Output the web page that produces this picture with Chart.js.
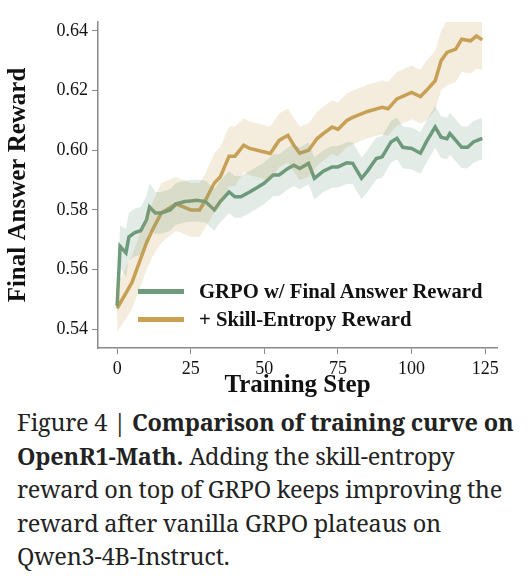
<!DOCTYPE html>
<html><head><meta charset="utf-8">
<script src="https://cdn.jsdelivr.net/npm/chart.js@4"></script>
<style>
body{margin:0;background:#fff;width:528px;height:584px;overflow:hidden;position:relative}
#wrap{position:absolute;left:0;top:0;width:528px;height:405px}
#legend{position:absolute;left:138px;top:277px;font-family:"Liberation Serif",serif;font-weight:bold;font-size:20.7px;color:#111;line-height:28px}
#legend div{display:flex;align-items:center}
#legend span.sw{display:inline-block;width:46px;height:5px;margin-right:15px}
#cap{position:absolute;left:17px;top:406px;width:505px;font-family:"Noto Serif","DejaVu Serif","Liberation Serif",serif;font-size:23.5px;line-height:33.5px;color:#222;letter-spacing:-0.2px}
</style></head><body>
<div id="wrap"><canvas id="c" width="528" height="405"></canvas></div>
<div id="legend">
<div><span class="sw" style="background:#6f9a7c"></span>GRPO w/ Final Answer Reward</div>
<div><span class="sw" style="background:#c9a155"></span>+ Skill-Entropy Reward</div>
</div>
<div id="cap">Figure 4 | <b>Comparison of training curve on OpenR1-Math.</b> Adding the skill-entropy reward on top of GRPO keeps improving the reward after vanilla GRPO plateaus on Qwen3-4B-Instruct.</div>
<script>
const xTicks=[0,25,50,75,100,125];
const yTicks=[0.54,0.56,0.58,0.60,0.62,0.64];
const skillSteps=[0,5,10,12,15,20,25,28,30,33,35,38,40,43,45,50,52,55,58,60,62,65,68,70,73,75,78,80,85,90,92,95,100,103,105,108,110,112,115,117,120,122,124];
const skillMean=[0.547,0.5556,0.569,0.5733,0.579,0.582,0.580,0.580,0.5833,0.589,0.591,0.598,0.598,0.6017,0.6006,0.5994,0.5989,0.6033,0.605,0.6017,0.599,0.600,0.604,0.6056,0.6078,0.607,0.610,0.611,0.613,0.6144,0.6139,0.6172,0.6194,0.618,0.620,0.6233,0.630,0.6328,0.6339,0.6372,0.6367,0.6383,0.637];
const skillHalf=[0.008,0.009,0.009,0.009,0.01,0.009,0.009,0.009,0.009,0.01,0.01,0.01,0.01,0.009,0.009,0.009,0.009,0.009,0.009,0.009,0.009,0.009,0.009,0.009,0.009,0.009,0.009,0.009,0.009,0.009,0.009,0.009,0.009,0.009,0.01,0.01,0.01,0.011,0.011,0.011,0.011,0.011,0.01];
const grpoSteps=[0,1,3,4,6,8,10,11,13,15,18,20,23,25,27,30,33,35,38,40,42,45,48,50,53,55,58,60,62,65,67,70,73,75,78,80,83,85,88,90,93,95,97,100,103,105,108,110,112,113,115,117,119,121,124];
const grpoMean=[0.5478,0.5678,0.5656,0.571,0.5724,0.573,0.5767,0.581,0.579,0.579,0.580,0.582,0.5828,0.583,0.5832,0.5828,0.580,0.5828,0.586,0.5844,0.5844,0.586,0.5878,0.589,0.5917,0.5917,0.5939,0.595,0.5939,0.5956,0.5906,0.593,0.5944,0.5944,0.5958,0.5956,0.5906,0.593,0.5972,0.5978,0.6028,0.604,0.601,0.6006,0.599,0.6028,0.6078,0.6044,0.6039,0.6056,0.6033,0.601,0.601,0.6028,0.604];
const grpoHalf=[0.004,0.007,0.008,0.008,0.008,0.008,0.008,0.008,0.007,0.007,0.007,0.007,0.007,0.007,0.007,0.007,0.007,0.007,0.007,0.007,0.007,0.007,0.007,0.007,0.007,0.007,0.007,0.007,0.007,0.007,0.007,0.007,0.007,0.007,0.007,0.007,0.007,0.007,0.007,0.007,0.007,0.007,0.007,0.007,0.007,0.007,0.007,0.007,0.007,0.007,0.007,0.007,0.007,0.007,0.007];
const G='#6f9a7c',O='#c9a155';
const pts=(xs,ys,f)=>xs.map((x,i)=>({x,y:f(ys[i],i)}));
const ds=[
 {data:pts(grpoSteps,grpoMean,(v,i)=>v+grpoHalf[i]),borderWidth:0,pointRadius:0,fill:'+1',backgroundColor:'rgba(111,154,124,0.2)'},
 {data:pts(grpoSteps,grpoMean,(v,i)=>v-grpoHalf[i]),borderWidth:0,pointRadius:0,fill:false},
 {data:pts(skillSteps,skillMean,(v,i)=>v+skillHalf[i]),borderWidth:0,pointRadius:0,fill:'+1',backgroundColor:'rgba(201,161,85,0.2)'},
 {data:pts(skillSteps,skillMean,(v,i)=>v-skillHalf[i]),borderWidth:0,pointRadius:0,fill:false},
 {data:pts(grpoSteps,grpoMean,v=>v),borderColor:G,borderWidth:3.5,pointRadius:0,fill:false},
 {data:pts(skillSteps,skillMean,v=>v),borderColor:O,borderWidth:3.5,pointRadius:0,fill:false}
];
const font={family:'"Liberation Serif",serif',size:18};
const tfont={family:'"Liberation Serif",serif',size:25,weight:'bold'};
new Chart(document.getElementById('c'),{type:'line',data:{datasets:ds},
options:{responsive:false,animation:false,clip:true,
 layout:{padding:{top:22,right:31,left:0,bottom:0}},
 plugins:{legend:{display:false},tooltip:{enabled:false}},
 scales:{
  x:{type:'linear',min:-6.5,max:129,
   afterBuildTicks:s=>{s.ticks=xTicks.map(v=>({value:v}))},
   afterFit:s=>{s.height=57},
   grid:{drawOnChartArea:false,drawTicks:true,tickLength:6,color:'#888'},
   border:{color:'#888',width:1.5},
   ticks:{font,color:'#111',padding:4,maxRotation:0},
   title:{display:true,text:'Training Step',font:tfont,color:'#111',padding:{top:-4}}},
  y:{min:0.5337,max:0.643,
   afterBuildTicks:s=>{s.ticks=yTicks.map(v=>({value:v}))},
   afterFit:s=>{s.width=98},
   grid:{drawOnChartArea:false,drawTicks:true,tickLength:6,color:'#888'},
   border:{color:'#888',width:1.5},
   ticks:{font,color:'#111',padding:4,callback:v=>v.toFixed(2)},
   title:{display:true,text:'Final Answer Reward',font:tfont,color:'#111',padding:{bottom:0}}}
 }}});
</script></body></html>
